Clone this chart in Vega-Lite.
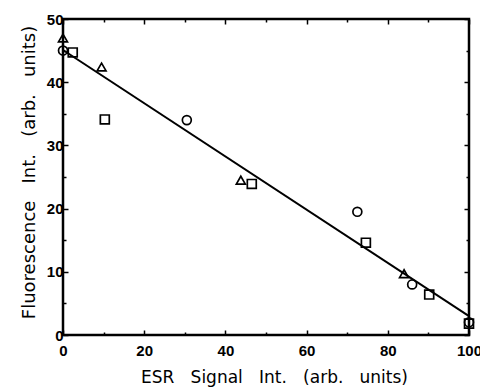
{
  "$schema": "https://vega.github.io/schema/vega-lite/v6.json",
  "autosize": "none",
  "width": 406,
  "height": 316,
  "padding": {"left": 63, "top": 19, "right": 11, "bottom": 55},
  "background": "white",
  "config": {
    "view": {"stroke": "black", "strokeWidth": 2.5},
    "axis": {
      "domain": false,
      "grid": false,
      "labelFlush": false,
      "labelOverlap": false,
      "labelFont": "Liberation Sans",
      "labelFontSize": 15,
      "labelFontWeight": "bold",
      "labelColor": "black",
      "titleFont": "DejaVu Sans",
      "titleFontSize": 17,
      "titleFontWeight": "normal",
      "titleColor": "black",
      "tickColor": "black",
      "tickWidth": 1.5
    }
  },
  "datasets": {
    "pts": [
      {"x": 0, "y": 45, "series": "circle"},
      {"x": 30.5, "y": 34, "series": "circle"},
      {"x": 72.5, "y": 19.5, "series": "circle"},
      {"x": 86, "y": 8, "series": "circle"},
      {"x": 100, "y": 2, "series": "circle"},
      {"x": 0, "y": 47, "series": "triangle"},
      {"x": 9.5, "y": 42.4, "series": "triangle"},
      {"x": 43.8, "y": 24.5, "series": "triangle"},
      {"x": 84, "y": 9.7, "series": "triangle"},
      {"x": 2.4, "y": 44.7, "series": "square"},
      {"x": 10.3, "y": 34.1, "series": "square"},
      {"x": 46.5, "y": 23.9, "series": "square"},
      {"x": 74.6, "y": 14.6, "series": "square"},
      {"x": 90.2, "y": 6.4, "series": "square"},
      {"x": 100, "y": 1.8, "series": "square"}
    ],
    "fit": [
      {"x": 0, "y": 45.1},
      {"x": 100, "y": 3.0}
    ]
  },
  "layer": [
    {
      "data": {"name": "fit"},
      "mark": {"type": "line", "color": "black", "strokeWidth": 2},
      "encoding": {
        "x": {"field": "x", "type": "quantitative", "scale": {"domain": [0, 100], "nice": false, "zero": false},
          "axis": {"orient": "bottom", "title": "ESR\u00a0\u00a0 Signal\u00a0\u00a0 Int.\u00a0\u00a0 (arb.\u00a0\u00a0 units)", "values": [0,10,20,30,40,50,60,70,80,90,100],
            "labelExpr": "datum.value % 20 === 0 ? datum.label : ''",
            "tickSize": {"condition": {"test": "datum.value % 20 === 0", "value": -5}, "value": -3},
            "labelPadding": 13, "titlePadding": 9, "titleX": 211}},
        "y": {"field": "y", "type": "quantitative", "scale": {"domain": [0, 50], "nice": false, "zero": false},
          "axis": {"orient": "left", "title": "Fluorescence\u00a0\u00a0 Int.\u00a0\u00a0 (arb.\u00a0\u00a0 units)", "values": [0,5,10,15,20,25,30,35,40,45,50],
            "labelExpr": "datum.value % 10 === 0 ? datum.label : ''",
            "tickSize": {"condition": {"test": "datum.value % 10 === 0", "value": -5}, "value": -3},
            "labelPadding": 5, "titlePadding": 8, "titleFontSize": 18, "titleY": 153}}
      }
    },
    {
      "data": {"name": "pts"},
      "mark": {"type": "point", "filled": false, "strokeWidth": 1.7, "size": 80, "color": "black", "opacity": 1},
      "encoding": {
        "x": {"field": "x", "type": "quantitative", "scale": {"domain": [0, 100], "nice": false, "zero": false},
          "axis": {"orient": "top", "title": null, "labels": false, "values": [0,10,20,30,40,50,60,70,80,90,100],
            "tickSize": {"condition": {"test": "datum.value % 20 === 0", "value": -5}, "value": -3}}},
        "y": {"field": "y", "type": "quantitative", "scale": {"domain": [0, 50], "nice": false, "zero": false},
          "axis": {"orient": "right", "title": null, "labels": false, "values": [0,5,10,15,20,25,30,35,40,45,50],
            "tickSize": {"condition": {"test": "datum.value % 10 === 0", "value": -5}, "value": -3}}},
        "shape": {"field": "series", "type": "nominal",
          "scale": {"domain": ["circle", "triangle", "square"], "range": ["circle", "triangle-up", "square"]},
          "legend": null}
      }
    }
  ],
  "resolve": {"axis": {"x": "independent", "y": "independent"}}
}
